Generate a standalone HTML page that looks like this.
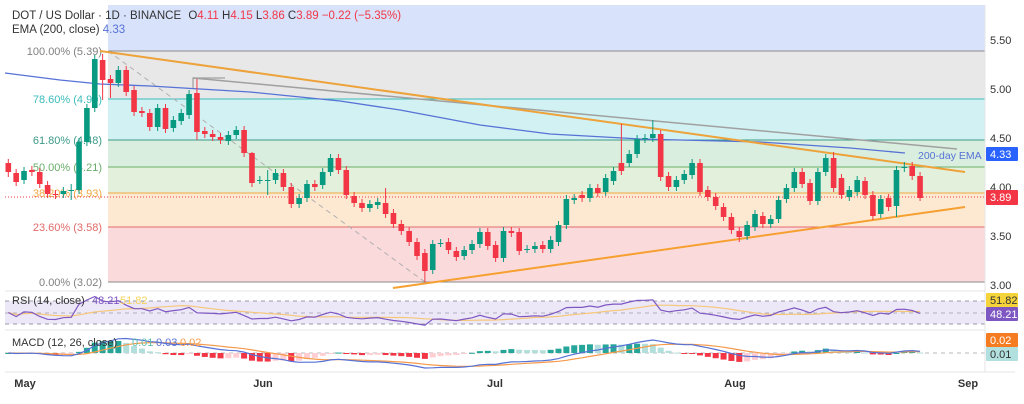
<!DOCTYPE html>
<html><head><meta charset="utf-8"><style>
html,body{margin:0;padding:0;background:#fff;width:1024px;height:404px;overflow:hidden}
svg{display:block;font-family:"Liberation Sans",sans-serif}
</style></head><body>
<svg id="s" width="1024" height="404" viewBox="0 0 1024 404" xmlns="http://www.w3.org/2000/svg">
<rect x="0" y="0" width="1024" height="404" fill="#fff"/>
<rect x="108" y="5" width="877" height="46" fill="#d8e2fb"/>
<rect x="108" y="51" width="877" height="48" fill="#e8e8e8"/>
<rect x="108" y="99" width="877" height="41" fill="#d2f1f2"/>
<rect x="108" y="140" width="877" height="27" fill="#daeedf"/>
<rect x="108" y="167" width="877" height="26" fill="#e3f1dc"/>
<rect x="108" y="193" width="877" height="34" fill="#fde9d2"/>
<rect x="108" y="227" width="877" height="55" fill="#fbdadc"/>
<line x1="108" y1="51" x2="985" y2="51" stroke="#8a8a8a" stroke-width="1"/>
<line x1="108" y1="99" x2="985" y2="99" stroke="#3cbcbc" stroke-width="1"/>
<line x1="108" y1="140" x2="985" y2="140" stroke="#3c9a88" stroke-width="1"/>
<line x1="108" y1="167" x2="985" y2="167" stroke="#69ad69" stroke-width="1"/>
<line x1="108" y1="193" x2="985" y2="193" stroke="#f0a840" stroke-width="1"/>
<line x1="108" y1="227" x2="985" y2="227" stroke="#e26a6a" stroke-width="1"/>
<line x1="108" y1="282" x2="985" y2="282" stroke="#8a8a8a" stroke-width="1"/>
<g font-size="11" text-anchor="end">
<text x="102" y="55" fill="#808080">100.00% (5.39)</text>
<text x="102" y="103" fill="#3cbcbc">78.60% (4.90)</text>
<text x="102" y="144" fill="#3c9a88">61.80% (4.48)</text>
<text x="102" y="171" fill="#69ad69">50.00% (4.21)</text>
<text x="102" y="197" fill="#f0a840">38.20% (3.93)</text>
<text x="102" y="231" fill="#e26a6a">23.60% (3.58)</text>
<text x="102" y="286" fill="#808080">0.00% (3.02)</text>
</g>
<line x1="5" y1="197" x2="985" y2="197" stroke="#f23645" stroke-width="1" stroke-dasharray="1,2"/>
<line x1="108" y1="51" x2="425" y2="282" stroke="#b0b0b0" stroke-width="1" stroke-dasharray="5,4"/>
<polyline points="193,88 193,78 225,78" fill="none" stroke="#a0a0a0" stroke-width="1.2"/>
<line x1="193" y1="78" x2="957" y2="149" stroke="#a0a0a0" stroke-width="1.5"/>
<polyline id="ema" fill="none" stroke="#5672d6" stroke-width="1.3" points="5,73 60,80 100,84 150,86 250,92 340,101 400,110 480,125 550,134 640,139 760,142 850,148 905,153"/>
<text x="918" y="159" font-size="10.5" fill="#5672d6">200-day EMA</text>
<line x1="100" y1="51" x2="965" y2="172" stroke="#eda23a" stroke-width="2"/>
<line x1="393" y1="288" x2="965" y2="207" stroke="#f5a030" stroke-width="2"/>
<g id="candles"></g>
<line x1="5" y1="291" x2="985" y2="291" stroke="#e6e6e6"/>
<rect x="5" y="301" width="980" height="23" fill="#ede8f8"/>
<line x1="5" y1="301" x2="985" y2="301" stroke="#9a9aa8" stroke-dasharray="4,4"/>
<line x1="5" y1="313" x2="985" y2="313" stroke="#b0b0bb" stroke-dasharray="4,4"/>
<line x1="5" y1="324" x2="985" y2="324" stroke="#9a9aa8" stroke-dasharray="4,4"/>
<line x1="5" y1="330" x2="985" y2="330" stroke="#e6e6e6"/>
<line x1="5" y1="353" x2="985" y2="353" stroke="#b8b8b8" stroke-dasharray="4,4"/>
<g id="ind"></g>
<line x1="985" y1="5" x2="985" y2="372" stroke="#e6e6e6"/>
<line x1="5" y1="372" x2="1015" y2="372" stroke="#e6e6e6"/>
<text x="12" y="304" font-size="11" fill="#333">RSI (14, close)</text>
<text x="92" y="304" font-size="11" fill="#7e57c2">48.21</text>
<text x="120" y="304" font-size="11" fill="#f5d35a">51.82</text>
<text x="12" y="346" font-size="11" fill="#333">MACD (12, 26, close)</text>
<text x="132" y="346" font-size="11" fill="#5cc0b0">0.01</text>
<text x="156" y="346" font-size="11" fill="#5672d6">0.03</text>
<text x="180" y="346" font-size="11" fill="#f59a4a">0.02</text>
<text x="12" y="19" font-size="11.5" fill="#333">DOT / US Dollar · 1D · BINANCE  <tspan dx="4" fill="#333">O</tspan><tspan fill="#f23645">4.11</tspan> <tspan fill="#333">H</tspan><tspan fill="#f23645">4.15</tspan> <tspan fill="#333">L</tspan><tspan fill="#f23645">3.86</tspan> <tspan fill="#333">C</tspan><tspan fill="#f23645">3.89</tspan> <tspan fill="#f23645">−0.22 (−5.35%)</tspan></text>
<text x="12" y="33" font-size="11.5" fill="#333">EMA (200, close) <tspan fill="#5672d6">4.33</tspan></text>
<g font-size="11" fill="#333">
<text x="990" y="44">5.50</text><text x="990" y="93">5.00</text><text x="990" y="142">4.50</text>
<text x="990" y="191">4.00</text><text x="990" y="240">3.50</text><text x="990" y="289">3.00</text>
</g>
<rect x="986" y="147" width="32" height="14" fill="#2962ff" rx="1"/><text x="990" y="158" font-size="11" fill="#fff">4.33</text>
<rect x="986" y="190" width="32" height="15" fill="#f23645" rx="1"/><text x="990" y="201" font-size="11" fill="#fff">3.89</text>
<rect x="986" y="293" width="32" height="14" fill="#f5d33a" rx="1"/><text x="990" y="304" font-size="11" fill="#333">51.82</text>
<rect x="986" y="307" width="32" height="14" fill="#7e57c2" rx="1"/><text x="990" y="318" font-size="11" fill="#fff">48.21</text>
<rect x="986" y="333" width="32" height="14" fill="#f57c20" rx="1"/><text x="990" y="344" font-size="11" fill="#fff">0.02</text>
<rect x="986" y="347" width="32" height="14" fill="#b2e0de" rx="1"/><text x="990" y="358" font-size="11" fill="#333">0.01</text>
<g font-size="11" fill="#333" font-weight="bold" text-anchor="middle">
<text x="25" y="387">May</text><text x="263" y="387">Jun</text><text x="495" y="387">Jul</text><text x="735" y="387">Aug</text><text x="968" y="387">Sep</text>
</g>
</svg>
<script>
var D=[[163,172],[173,182],[180,171],[170,172],[172,184],[185,194],[194,195],[194,191],[190,190],[190,142],[142,108],[108,59],[60,80],[79,83],[83,70],[70,92],[90,112],[111,113],[113,127],[127,108],[108,129],[128,120],[121,113],[115,94],[93,132],[131,134],[134,137],[137,140],[141,135],[135,130],[130,153],[153,183],[180,180],[180,180],[180,173],[173,187],[187,204],[204,198],[198,184],[184,187],[185,172],[172,158],[158,170],
[170,195],[196,203],[203,208],[208,204],[205,202],[203,214],[213,224],[224,231],[231,242],[242,256],[253,271],[270,244],[243,243],[242,250],[251,257],[256,250],[250,244],[244,232],[232,246],[245,258],[258,231],[231,233],[232,251],[249,249],[249,246],[245,249],[249,240],[242,225],[225,199],[200,198],[195,198],[198,188],[188,193],[192,178],[181,171],[163,171],[163,154],[154,139],[139,138],[138,134],[134,177],
[176,187],[187,180],[180,174],[175,163],[163,192],[190,197],[197,206],[207,217],[217,230],[231,237],[236,225],[227,214],[216,224],[224,219],[219,200],[199,188],[188,172],[172,184],[183,201],[201,172],[172,158],[158,188],[178,195],[197,190],[192,180],[181,195],[195,216],[214,199],[198,207],[206,170],[168,167],[166,176],[176,198]];
var HO={11:55,12:54,24:79,31:152,48:188,78:124,82:120,105:152,114:162,8:184,33:170};
var LO={0:177,8:200,12:100,13:98,24:140,33:195,53:282,113:217,116:201,93:242,1:186};
var sp=7.86,x0=8.3,s='';
D.forEach(function(d,i){var x=x0+i*sp,o=d[0],c=d[1],up=c<=o,col=up?'#089981':'#f23645';
var t=Math.min(o,c),b=Math.max(o,c);var h=HO[i]!==undefined?HO[i]:t-4,l=LO[i]!==undefined?LO[i]:b+4;
s+='<line x1="'+x+'" y1="'+h+'" x2="'+x+'" y2="'+l+'" stroke="'+col+'" stroke-width="1"/>';
s+='<rect x="'+(x-2.8)+'" y="'+t+'" width="5.6" height="'+Math.max(1,b-t)+'" fill="'+col+'"/>';});
document.getElementById('candles').innerHTML=s;
var P=D.map(function(d){return 5.5-(d[1]-40)/97.6;});
var r=[],ag=0,al=0,n=14;
for(var i=0;i<P.length;i++){if(i==0){r.push(50);ag=0.02;al=0.02;continue;}var ch=P[i]-P[i-1];var g=ch>0?ch:0,lo=ch<0?-ch:0;ag=(ag*(n-1)+g)/n;al=(al*(n-1)+lo)/n;r.push(100-100/(1+ag/al));}
var ma=[];for(i=0;i<r.length;i++){var a=0,k=0;for(var j=Math.max(0,i-13);j<=i;j++){a+=r[j];k++;}ma.push(a/k);}
function ry(v){var y=312.5-(v-50)*0.5;return Math.max(293,Math.min(329,y));}
var q='',m='';for(i=0;i<r.length;i++){var x=x0+i*sp;q+=x+','+ry(r[i]).toFixed(1)+' ';m+=x+','+ry(ma[i]).toFixed(1)+' ';}
var out='<polyline points="'+m+'" fill="none" stroke="#f5c77a" stroke-width="1.2"/><polyline points="'+q+'" fill="none" stroke="#7e57c2" stroke-width="1.2"/>';
function ema(arr,p){var k=2/(p+1),e=arr[0],o=[];arr.forEach(function(v){e=v*k+e*(1-k);o.push(e);});return o;}
var pre=[];for(i=0;i<40;i++)pre.push(P[0]);var PP=pre.concat(P);
var e12=ema(PP,12),e26=ema(PP,26),mc=e12.map(function(v,i){return v-e26[i];});var sg=ema(mc,9);
mc=mc.slice(40);sg=sg.slice(40);var mx=0;mc.forEach(function(v){mx=Math.max(mx,Math.abs(v));});var sc=15/mx;
var a1='',a2='',hb='';for(i=0;i<mc.length;i++){var x=x0+i*sp;a1+=x+','+(353-mc[i]*sc).toFixed(1)+' ';a2+=x+','+(353-sg[i]*sc).toFixed(1)+' ';
var hv=(mc[i]-sg[i])*sc*1.6,prev=i?(mc[i-1]-sg[i-1]):0,cur=mc[i]-sg[i];var col=cur>=0?(cur>=prev?'#26a69a':'#b2dfdb'):(cur<prev?'#f23645':'#ffcdd2');
hb+='<rect x="'+(x-3)+'" y="'+Math.min(353,353-hv)+'" width="6" height="'+Math.max(1,Math.abs(hv))+'" fill="'+col+'"/>';}
out+=hb+'<polyline points="'+a2+'" fill="none" stroke="#f59a4a" stroke-width="1.2"/><polyline points="'+a1+'" fill="none" stroke="#5672d6" stroke-width="1.2"/>';
document.getElementById('ind').innerHTML=out;
</script>
</body></html>
